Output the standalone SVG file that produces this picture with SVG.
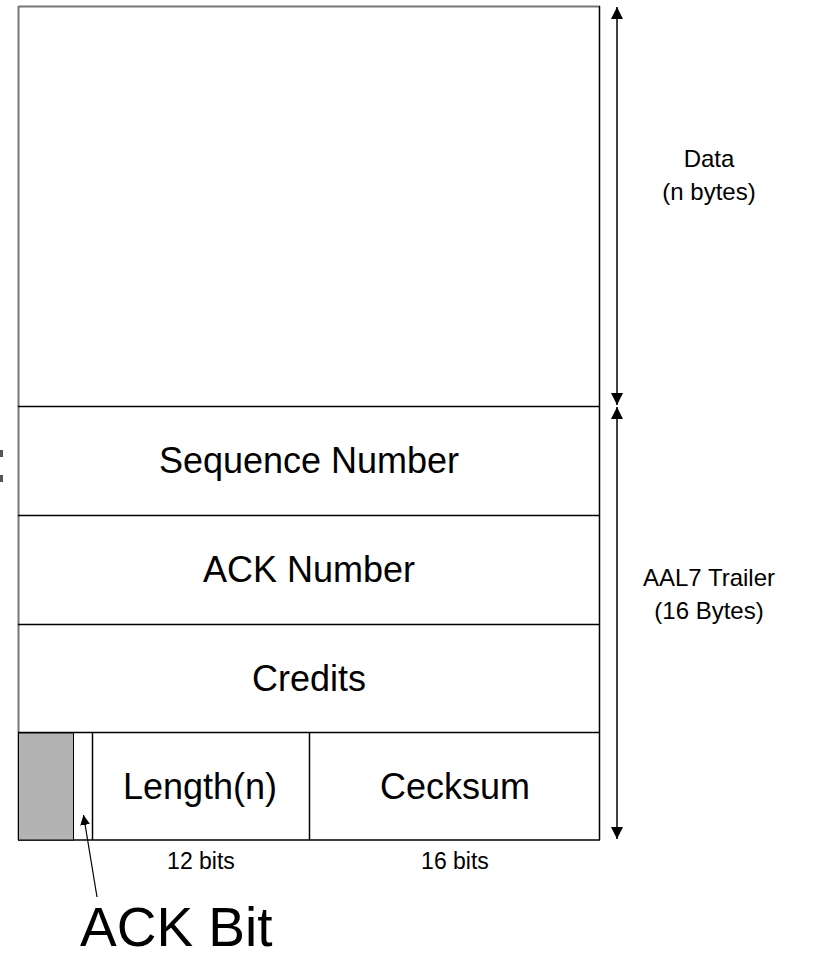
<svg xmlns="http://www.w3.org/2000/svg" width="815" height="957" viewBox="0 0 815 957">
<style>
.t{font-family:"Liberation Sans",Arial,sans-serif;fill:#000}
.big{font-size:36px;text-anchor:middle}
.lab{font-size:24px;text-anchor:middle}
.sm{font-size:23px;text-anchor:middle}
.ln{stroke:#000;stroke-width:1.5;fill:none}
</style>
<defs>
<marker id="ah" markerWidth="12" markerHeight="12" refX="12" refY="6" orient="auto-start-reverse" markerUnits="userSpaceOnUse" viewBox="0 0 12 12">
<path d="M0,0 L12,6 L0,12 Z" fill="#000"/>
</marker>
<marker id="ah2" markerWidth="10" markerHeight="10" refX="10" refY="5" orient="auto" markerUnits="userSpaceOnUse" viewBox="0 0 10 10">
<path d="M0,0 L10,5 L0,10 Z" fill="#000"/>
</marker>
</defs>
<rect width="815" height="957" fill="#fff"/>
<g id="frame">
<rect x="0" y="450" width="3" height="7" fill="#555"/>
<rect x="0" y="475" width="3" height="7" fill="#555"/>
<line x1="18.5" y1="6.5" x2="600" y2="6.5" stroke="#777" stroke-width="2"/>
<line x1="18.5" y1="6" x2="18.5" y2="840" stroke="#777" stroke-width="2"/>
<line x1="599.5" y1="6" x2="599.5" y2="840" stroke="#000" stroke-width="1.5"/>
<line x1="18" y1="840" x2="600" y2="840" stroke="#000" stroke-width="1.5"/>
</g>
<g id="data"><text class="t lab" x="709" y="167">Data</text><text class="t lab" x="709" y="200">(n bytes)</text></g>
<g id="seq"><line class="ln" x1="18" y1="406.5" x2="600" y2="406.5"/><text class="t big" x="309" y="473">Sequence Number</text></g>
<g id="ack"><line class="ln" x1="18" y1="515.5" x2="600" y2="515.5"/><text class="t big" x="309" y="582">ACK Number</text></g>
<g id="credits"><line class="ln" x1="18" y1="624.5" x2="600" y2="624.5"/><text class="t big" x="309" y="691">Credits</text></g>
<g id="bottom">
<line class="ln" x1="18" y1="732.5" x2="600" y2="732.5"/>
<rect x="18.5" y="733" width="55" height="107" fill="#b3b3b3" stroke="#000" stroke-width="1"/>
<line class="ln" x1="92.5" y1="732" x2="92.5" y2="840"/>
<line class="ln" x1="309.5" y1="732" x2="309.5" y2="840"/>
<text class="t big" x="200" y="799">Length(n)</text>
<text class="t big" x="455" y="799">Cecksum</text>
<text class="t sm" x="201" y="869">12 bits</text>
<text class="t sm" x="455" y="869">16 bits</text>
</g>
<g id="trailer"><text class="t lab" x="709" y="586">AAL7 Trailer</text><text class="t lab" x="709" y="619">(16 Bytes)</text></g>
<g id="ackbit"><text class="t" x="80" y="946" font-size="55">ACK Bit</text></g>
<g id="connectors">
<line class="ln" x1="617" y1="7" x2="617" y2="405" marker-start="url(#ah)" marker-end="url(#ah)"/>
<line class="ln" x1="617" y1="407" x2="617" y2="839" marker-start="url(#ah)" marker-end="url(#ah)"/>
<line x1="97" y1="897" x2="83.5" y2="815" stroke="#000" stroke-width="1.2" marker-end="url(#ah2)"/>
</g>
</svg>
